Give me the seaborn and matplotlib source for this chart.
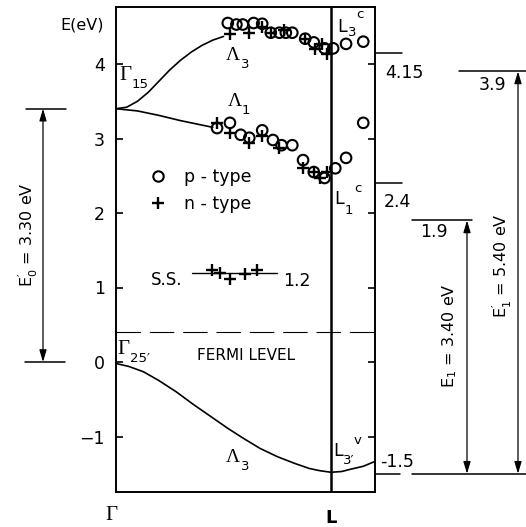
import numpy as np
import pandas as pd
import matplotlib
matplotlib.use("Agg")
import matplotlib.pyplot as plt
from matplotlib.lines import Line2D
import seaborn as sns

# ---------------- data ----------------
# band curves (k: 0 = Gamma, 1 = L)
lam3_up_k = [0.0, 0.05, 0.10, 0.15, 0.20, 0.25, 0.30, 0.35, 0.40, 0.45, 0.50]
lam3_up_E = [3.40, 3.42, 3.50, 3.62, 3.77, 3.92, 4.05, 4.16, 4.25, 4.32, 4.37]
lam1_k = [0.0, 0.10, 0.20, 0.30, 0.40, 0.45]
lam1_E = [3.40, 3.37, 3.31, 3.24, 3.18, 3.15]
val_k = [0.0, 0.06, 0.127, 0.20, 0.28, 0.36, 0.44, 0.52, 0.59, 0.67, 0.75, 0.83, 0.90, 0.95, 1.0, 1.05, 1.09, 1.15, 1.2]
val_E = [-0.02, -0.06, -0.13, -0.25, -0.40, -0.57, -0.73, -0.89, -1.02, -1.16, -1.27, -1.36, -1.43, -1.46, -1.48, -1.47, -1.44, -1.40, -1.34]

# measured points
up_p_k = [0.52, 0.56, 0.59, 0.64, 0.68, 0.72, 0.76, 0.79, 0.82, 0.88, 0.92, 0.97, 1.01, 1.07, 1.15]
up_p_E = [4.55, 4.53, 4.53, 4.55, 4.54, 4.42, 4.42, 4.42, 4.42, 4.34, 4.29, 4.21, 4.21, 4.27, 4.30]
up_n_k = [0.53, 0.62, 0.68, 0.72, 0.78, 0.88, 0.925, 0.96, 0.98]
up_n_E = [4.40, 4.42, 4.50, 4.42, 4.46, 4.34, 4.20, 4.27, 4.14]
lo_p_k = [0.47, 0.53, 0.58, 0.62, 0.68, 0.73, 0.77, 0.82, 0.87, 0.92, 0.97, 1.02, 1.07, 1.15]
lo_p_E = [3.14, 3.21, 3.05, 3.01, 3.11, 2.98, 2.91, 2.91, 2.71, 2.55, 2.47, 2.60, 2.74, 3.21]
lo_n_k = [0.47, 0.53, 0.62, 0.68, 0.76, 0.87, 0.92, 0.95, 0.98]
lo_n_E = [3.21, 3.07, 2.94, 3.03, 2.87, 2.60, 2.55, 2.47, 2.55]
ss_k = [0.445, 0.484, 0.53, 0.60, 0.654]
ss_E = [1.23, 1.19, 1.12, 1.18, 1.23]

# energy levels
gamma15 = 3.40
fermi = 0.40
ss_level = 1.19
L3c = 4.15
L1c = 2.40
L3v = -1.50
E1_top = 1.90
E1p_top = 3.90
yticks = [-1, 0, 1, 2, 3, 4]

# ---------------- figure ----------------
sns.set_theme(style="ticks")
SANS = ["DejaVu Sans"]
SERIF = ["Liberation Serif", "DejaVu Serif"]
plt.rcParams["font.family"] = SANS
plt.rcParams["mathtext.default"] = "regular"
plt.rcParams["text.color"] = "black"
plt.rcParams["axes.labelcolor"] = "black"
plt.rcParams["ytick.color"] = "black"
plt.rcParams["legend.labelcolor"] = "black"

W, H = 526, 527
fig = plt.figure(figsize=(W / 100, H / 100), dpi=100)
L_px, R_px, T_px, B_px = 116, 375, 7, 492
ax = fig.add_axes([L_px / W, 1 - B_px / H, (R_px - L_px) / W, (B_px - T_px) / H])

X0, KX = 116, 215.0
Y0, KY = 362, 74.5
def P(x, y):
    return ((x - X0) / KX, (Y0 - y) / KY)

ax.set_xlim(P(L_px, 0)[0], P(R_px, 0)[0])
ax.set_ylim(P(0, B_px)[1], P(0, T_px)[1])

lw = 1.2
sns.lineplot(x=lam3_up_k, y=lam3_up_E, sort=False, estimator=None, color="black", lw=lw, ax=ax)
sns.lineplot(x=lam1_k, y=lam1_E, sort=False, estimator=None, color="black", lw=lw, ax=ax)
sns.lineplot(x=val_k, y=val_E, sort=False, estimator=None, color="black", lw=lw, ax=ax)

# markers
circ_kw = dict(marker="o", s=58, facecolors="none", edgecolor="black", linewidth=1.5, ax=ax, zorder=4)
plus_kw = dict(marker="+", s=75, color="black", linewidth=1.7, ax=ax, zorder=5)
sns.scatterplot(x=up_p_k, y=up_p_E, **circ_kw)
sns.scatterplot(x=lo_p_k, y=lo_p_E, **circ_kw)
sns.scatterplot(x=up_n_k, y=up_n_E, **plus_kw)
sns.scatterplot(x=lo_n_k, y=lo_n_E, **plus_kw)
sns.scatterplot(x=ss_k, y=ss_E, **plus_kw)

# L line, fermi level, S.S. line
ax.axvline(1.0, color="black", lw=1.8)
ax.axhline(fermi, color="black", lw=0.8, ls=(0, (22, 8)))
ax.plot([P(192, 0)[0], P(277, 0)[0]], [ss_level, ss_level], color="black", lw=1.0)

# axes style
for s in ax.spines.values():
    s.set_linewidth(1.4)
    s.set_color("black")
ax.set_xticks([])
ax.set_yticks(yticks)
ax.set_yticklabels([f"{t:d}".replace("-", "\u2212") for t in yticks])
ax.tick_params(axis="y", direction="in", length=5, width=1.2, left=True, right=True,
               labelsize=12.5, pad=8, colors="black")
ax.grid(False)

# legend
handles = [Line2D([], [], marker="o", mfc="none", mec="black", mew=1.5, ms=7.5, ls=""),
           Line2D([], [], marker="+", color="black", mew=1.7, ms=9, ls="")]
leg = ax.legend(handles, ["p - type", "n - type"], loc="upper left",
                bbox_to_anchor=((149 - L_px) / (R_px - L_px), (B_px - 168) / (B_px - T_px)),
                frameon=False, fontsize=12.5, borderpad=0, handlelength=1.0,
                handletextpad=1.0, labelspacing=0.5, borderaxespad=0)
for t in leg.get_texts():
    t.set_color("black")

# text helpers
def T(x, y, s, size=12, family=None, **kw):
    fam = family if family else SANS
    ax.text(*P(x, y), s, fontsize=size, family=fam, ha=kw.pop("ha", "center"),
            va=kw.pop("va", "center"), clip_on=False, color="black", **kw)

T(82, 25, "E(eV)", 11.5)
T(125, 75, "\u0393", 15, SERIF)
T(140, 84, "15", 9.5)
T(233, 56, "\u039b", 14, SERIF)
T(245, 65, "3", 9.5)
T(235, 102, "\u039b", 14, SERIF)
T(246, 111, "1", 9.5)
T(342, 27, "L", 12.5)
T(352, 33, "3", 9.5)
T(360, 14, "c", 9.5)
T(339, 199, "L", 12.5)
T(349, 210, "1", 9.5)
T(358, 189, "c", 9.5)
T(338, 451, "L", 12.5)
T(349, 460, "3\u2032", 9.5)
T(358, 440, "v", 9.5)
T(123, 350, "\u0393", 15, SERIF)
T(140, 358, "25\u2032", 9.5)
T(233, 457, "\u039b", 14, SERIF)
T(245, 467, "3", 9.5)
T(246, 355, "FERMI LEVEL", 11)
T(167, 280, "S.S.", 12)
T(297, 281, "1.2", 12.5)
T(111, 515, "\u0393", 15, SERIF)
T(331, 518, "L", 13, weight="bold")
T(404, 73, "4.15", 12.5)
T(397, 202, "2.4", 12.5)
T(434, 232, "1.9", 12.5)
T(492, 85, "3.9", 12.5)
T(397, 462, "-1.5", 12.5)
T(28, 235, r"$E_0^{\prime}$ = 3.30 eV", 11.5, rotation=90)
T(450, 336, r"$E_1$ = 3.40 eV", 11.5, rotation=90)
T(502, 266, r"$E_1^{\prime}$ = 5.40 eV", 11.5, rotation=90)

# level lines outside the axes
def hline(x1, x2, E):
    ax.plot([P(x1, 0)[0], P(x2, 0)[0]], [E, E], color="black", lw=1.1, clip_on=False)

hline(26, 66, gamma15)
hline(25, 65, 0.0)
hline(375, 402, L3c)
hline(375, 402, L1c)
hline(412, 472, E1_top)
hline(459, 526, E1p_top)
hline(375, 400, L3v)
hline(412, 526, L3v)

def varrow(x, Etop, Ebot):
    xd = P(x, 0)[0]
    ax.annotate("", xy=(xd, Etop), xytext=(xd, Ebot),
                arrowprops=dict(arrowstyle="<|-|>,head_length=0.6,head_width=0.18",
                                color="black", lw=0.9, shrinkA=0, shrinkB=0),
                annotation_clip=False)

varrow(43, gamma15, 0.0)
varrow(467, E1_top, L3v)
varrow(518, E1p_top, L3v)

fig.savefig("out.png", dpi=100)
